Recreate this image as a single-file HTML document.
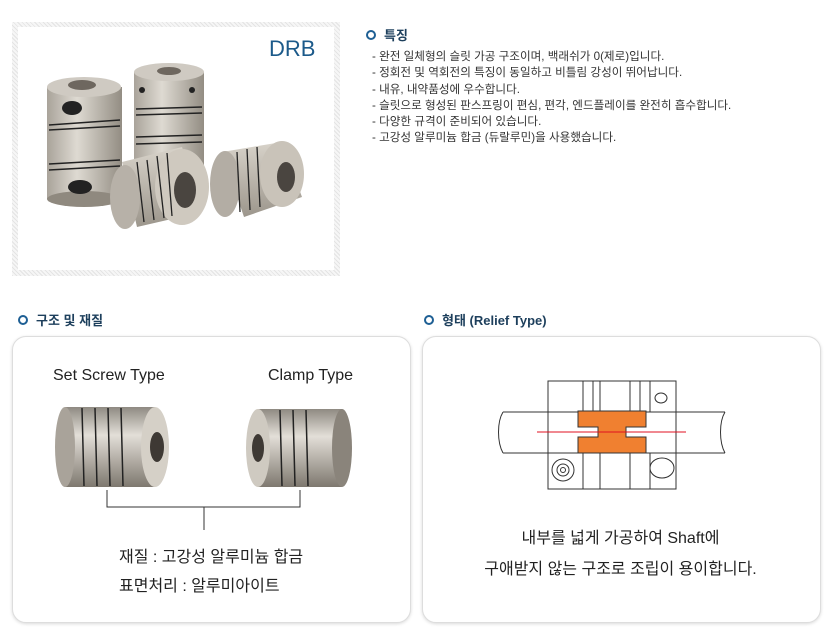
<!DOCTYPE html>
<html><head><meta charset="utf-8"><style>
body{margin:0;width:827px;height:639px;background:#fff;position:relative;font-family:"Liberation Sans","Noto Sans CJK KR",sans-serif;overflow:hidden}
.a{position:absolute}
.h{font-size:13px;font-weight:bold;color:#1d3f5c}
.ic{display:inline-block;width:6px;height:6px;border:2.5px solid #1e5f94;border-radius:50%;margin-right:8px;vertical-align:0px}
.li{font-size:11.6px;color:#333;line-height:16.3px;white-space:nowrap}
.box{border:1px solid #ddd;border-radius:14px;box-shadow:0 1px 3px rgba(0,0,0,.15);background:#fff}
.t16{font-size:16px;color:#222;white-space:nowrap}
</style></head><body>
<div class="a" style="left:12px;top:22px;width:328px;height:254px;background:repeating-linear-gradient(45deg,#e4e4e4 0 1px,#f6f6f6 1px 3px)"></div>
<div class="a" style="left:18px;top:27px;width:316px;height:243px;background:#fff"></div>
<div class="a" style="left:269px;top:36px;font-size:22px;color:#1c5a8a">DRB</div>
<svg class="a" style="left:12px;top:22px" width="328" height="254">
<defs><linearGradient id="g" x1="0" x2="1"><stop offset="0" stop-color="#a9a39a"/><stop offset=".4" stop-color="#dedad2"/><stop offset="1" stop-color="#938d83"/></linearGradient>
<linearGradient id="g2" x1="0" y1="0" x2="0" y2="1"><stop offset="0" stop-color="#d8d3ca"/><stop offset="1" stop-color="#9c968c"/></linearGradient></defs>
<rect x="35" y="65" width="75" height="112" fill="url(#g)"/><ellipse cx="72" cy="65" rx="37" ry="10" fill="#cfcac2"/><ellipse cx="72" cy="177" rx="37" ry="8" fill="#8f897f"/><ellipse cx="70" cy="63" rx="14" ry="5" fill="#6e675f"/>
<ellipse cx="60" cy="86" rx="10" ry="7" fill="#222"/><ellipse cx="68" cy="165" rx="12" ry="7" fill="#222"/>
<g stroke="#222" stroke-width="1.5"><line x1="37" y1="103" x2="108" y2="98"/><line x1="37" y1="108" x2="108" y2="104"/><line x1="37" y1="142" x2="108" y2="138"/><line x1="37" y1="148" x2="108" y2="144"/></g>
<rect x="122" y="50" width="70" height="100" fill="url(#g)"/><ellipse cx="157" cy="50" rx="35" ry="9" fill="#cfcac2"/><ellipse cx="157" cy="49" rx="12" ry="4" fill="#6e675f"/>
<g stroke="#222" stroke-width="1.5"><line x1="124" y1="87" x2="190" y2="85"/><line x1="124" y1="93" x2="190" y2="91"/><line x1="124" y1="115" x2="190" y2="113"/><line x1="124" y1="122" x2="190" y2="120"/></g>
<circle cx="130" cy="68" r="3" fill="#222"/><circle cx="180" cy="68" r="3" fill="#222"/>
<path d="M210 130 L270 120 L290 175 L232 195 Z" fill="url(#g2)"/><ellipse cx="270" cy="152" rx="22" ry="33" fill="#c9c3b9"/><ellipse cx="274" cy="155" rx="9" ry="15" fill="#4a4540"/><ellipse cx="213" cy="162" rx="15" ry="33" fill="#b3ada4"/>
<g stroke="#222" stroke-width="1.3"><line x1="225" y1="130" x2="228" y2="190"/><line x1="235" y1="127" x2="238" y2="188"/><line x1="245" y1="125" x2="248" y2="185"/></g>
<path d="M110 140 L170 125 L190 190 L125 205 Z" fill="url(#g2)"/><ellipse cx="170" cy="165" rx="27" ry="38" fill="#cfc9bf"/><ellipse cx="173" cy="168" rx="11" ry="18" fill="#4a4540"/><ellipse cx="113" cy="175" rx="15" ry="32" fill="#b7b1a8"/>
<g stroke="#222" stroke-width="1.3"><line x1="125" y1="140" x2="132" y2="200"/><line x1="135" y1="138" x2="142" y2="198"/><line x1="145" y1="134" x2="152" y2="196"/><line x1="155" y1="131" x2="160" y2="194"/></g>
</svg>
<div class="a h" style="left:366px;top:25px"><span class="ic"></span>특징</div>
<div class="a li" style="left:372px;top:49px">- 완전 일체형의 슬릿 가공 구조이며, 백래쉬가 0(제로)입니다.<br>- 정회전 및 역회전의 특징이 동일하고 비틀림 강성이 뛰어납니다.<br>- 내유, 내약품성에 우수합니다.<br>- 슬릿으로 형성된 판스프링이 편심, 편각, 엔드플레이를 완전히 흡수합니다.<br>- 다양한 규격이 준비되어 있습니다.<br>- 고강성 알루미늄 합금 (듀랄루민)을 사용했습니다.</div>
<div class="a h" style="left:18px;top:310px"><span class="ic"></span>구조 및 재질</div>
<div class="a h" style="left:424px;top:310px"><span class="ic"></span>형태 (Relief Type)</div>
<div class="a box" style="left:12px;top:336px;width:397px;height:285px"></div>
<div class="a box" style="left:422px;top:336px;width:397px;height:285px"></div>
<div class="a t16" style="left:53px;top:367px">Set Screw Type</div>
<div class="a t16" style="left:268px;top:367px">Clamp Type</div>
<svg class="a" style="left:0;top:0" width="827" height="639">
<defs><linearGradient id="h" x1="0" y1="0" x2="0" y2="1"><stop offset="0" stop-color="#8f8a82"/><stop offset=".35" stop-color="#e3dfd8"/><stop offset="1" stop-color="#7e786f"/></linearGradient></defs>
<rect x="65" y="407" width="90" height="80" fill="url(#h)"/><ellipse cx="65" cy="447" rx="10" ry="40" fill="#a9a39a"/><ellipse cx="155" cy="447" rx="14" ry="40" fill="#d5d0c7"/><ellipse cx="157" cy="447" rx="7" ry="15" fill="#3e3934"/>
<g stroke="#222" stroke-width="1.5"><line x1="82" y1="408" x2="84" y2="486"/><line x1="95" y1="408" x2="97" y2="486"/><line x1="108" y1="408" x2="110" y2="486"/><line x1="121" y1="408" x2="123" y2="486"/></g>
<rect x="258" y="409" width="84" height="78" fill="url(#h)"/><ellipse cx="258" cy="448" rx="12" ry="39" fill="#cfcac1"/><ellipse cx="258" cy="448" rx="6" ry="14" fill="#3e3934"/><ellipse cx="342" cy="448" rx="10" ry="39" fill="#8a847b"/>
<g stroke="#222" stroke-width="1.5"><line x1="280" y1="410" x2="282" y2="486"/><line x1="293" y1="410" x2="295" y2="486"/><line x1="306" y1="410" x2="308" y2="486"/></g>
<g stroke="#333" fill="none" stroke-width="1"><path d="M107 490V507H300V490M204 507V530"/></g>
<g stroke="#333" fill="none" stroke-width="1"><rect x="548" y="381" width="128" height="108"/>
<path d="M503 412H725M503 453H725M503 412c-6 10 -6 30 0 41M725 412c-6 10 -6 30 0 41"/>
<path d="M583 381V412M593 381V412M600 381V412M630 381V412M640 381V412M650 381V412M583 453V489M600 453V489M630 453V489M650 453V489"/>
<circle cx="563" cy="470" r="11"/><circle cx="563" cy="470" r="6"/><circle cx="563" cy="470" r="2.5"/>
<ellipse cx="661" cy="398" rx="6" ry="5"/><ellipse cx="662" cy="468" rx="12" ry="10"/></g>
<path d="M578 411H646V427H626V437H646V453H578V437H598V427H578Z" fill="#f08030" stroke="#333" stroke-width="1"/>
<line x1="537" y1="432" x2="686" y2="432" stroke="#e01020" stroke-width="1"/>
</svg>
<div class="a t16" style="left:119px;top:543px">재질 : 고강성 알루미늄 합금</div>
<div class="a t16" style="left:119px;top:572px">표면처리 : 알루미아이트</div>
<div class="a t16" style="left:422px;width:397px;text-align:center;top:524px">내부를 넓게 가공하여 Shaft에</div>
<div class="a t16" style="left:422px;width:397px;text-align:center;top:555px">구애받지 않는 구조로 조립이 용이합니다.</div>
</body></html>
